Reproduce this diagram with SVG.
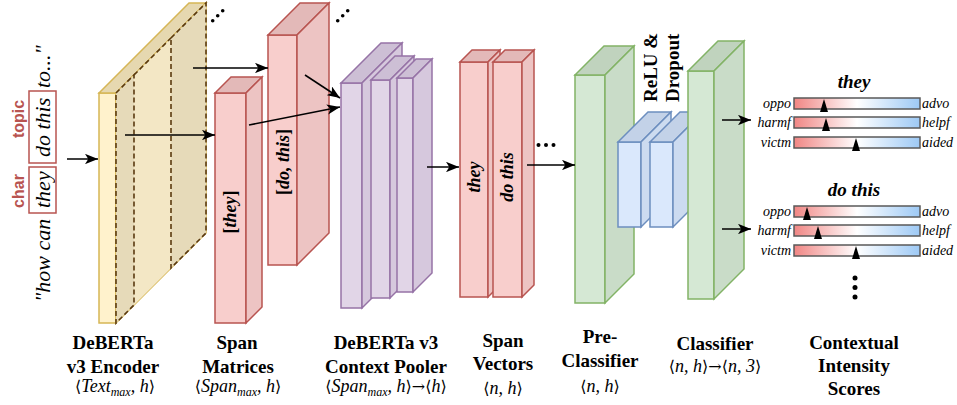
<svg xmlns="http://www.w3.org/2000/svg" width="957" height="405" viewBox="0 0 957 405">
<style>
.y1{fill:#fff2cc;stroke:#d6b656;stroke-width:1.5}
.y2{fill:#e6d8b0;stroke:#d6b656;stroke-width:1.5}
.y3{fill:#e6dab9;stroke:none}
.y4{fill:#f3e7c5;stroke:none}
.dash{fill:none;stroke:#5a3a10;stroke-width:1.6;stroke-dasharray:5 3}
.p1{fill:#f8cecc;stroke:#b85450;stroke-width:1.5}
.p2{fill:#e3b9b8;stroke:#b85450;stroke-width:1.5}
.p3{fill:#edc4c3;stroke:#b85450;stroke-width:1.5}
.u1{fill:#e1d5e7;stroke:#9673a6;stroke-width:1.5}
.u2{fill:#cdbfd5;stroke:#9673a6;stroke-width:1.5}
.u3{fill:#d6c8dd;stroke:#9673a6;stroke-width:1.5}
.g1{fill:#d5e8d4;stroke:#82b366;stroke-width:1.5}
.g2{fill:#c0d3be;stroke:#82b366;stroke-width:1.5}
.g3{fill:#c9dcc8;stroke:#82b366;stroke-width:1.5}
.b1{fill:#dae8fc;stroke:#6c8ebf;stroke-width:1.5}
.b2{fill:#c3d2e8;stroke:#6c8ebf;stroke-width:1.5}
.b3{fill:#ccdbf0;stroke:#6c8ebf;stroke-width:1.5}
.conn{fill:none;stroke:#000;stroke-width:1.5;marker-end:url(#ah)}
.lbl{font-family:"Liberation Serif","Times New Roman",serif;font-weight:bold;font-size:19px;text-anchor:middle;fill:#000}
.sub{font-family:"Liberation Serif","Times New Roman",serif;font-style:italic;font-size:18px;text-anchor:middle;fill:#000}
.ab{font-style:normal;font-family:"DejaVu Serif","Liberation Serif",serif;font-size:16px}
.quote{font-family:"Liberation Serif","Times New Roman",serif;font-style:italic;font-size:22px;fill:#000}
.tag{font-family:"Liberation Sans",Arial,sans-serif;font-weight:bold;font-size:16px;fill:#b85450;text-anchor:middle}
.inl{font-family:"Liberation Serif","Times New Roman",serif;font-weight:bold;font-size:18px;text-anchor:middle;fill:#000}
.bar{stroke:#5a5a5a;stroke-width:1.5;fill:url(#grad)}
.sl{font-family:"Liberation Serif","Times New Roman",serif;font-style:italic;font-size:14px;fill:#000}
.tt{font-family:"Liberation Serif","Times New Roman",serif;font-style:italic;font-weight:bold;font-size:19px;text-anchor:middle;fill:#000}
</style>
<defs>
<marker id="ah" viewBox="0 0 10 8" refX="10" refY="4" markerWidth="13" markerHeight="10.5" markerUnits="userSpaceOnUse" orient="auto">
<path d="M0,0 L10,4 L0,8 L2.5,4 Z" fill="#000"/>
</marker>
<linearGradient id="grad" x1="0" y1="0" x2="1" y2="0">
<stop offset="0" stop-color="#f08684"/>
<stop offset="0.5" stop-color="#ffffff"/>
<stop offset="1" stop-color="#9dc9f5"/>
</linearGradient>
</defs>

<g id="input-text">
<text class="quote" transform="translate(50,302) rotate(-90)">"how can</text>
<text class="quote" transform="translate(50,208) rotate(-90)">they</text>
<text class="quote" transform="translate(50,157) rotate(-90)">do this</text>
<text class="quote" transform="translate(50,88) rotate(-90)">to..."</text>
<rect x="29" y="167" width="27" height="46" fill="none" stroke="#b85450" stroke-width="1.5"/>
<rect x="29" y="91" width="27" height="72" fill="none" stroke="#b85450" stroke-width="1.5"/>
<text class="tag" transform="translate(24,191) rotate(-90)">char</text>
<text class="tag" transform="translate(24,119) rotate(-90)">topic</text>
</g>

<g id="encoder">
<rect class="y1" x="99" y="93" width="17" height="230"/>
<polygon class="y2" points="99,93 189,3 206,3 116,93"/>
<polygon class="y1" points="116,93 206,3 206,233 116,323"/>
<polygon class="y3" points="116,93 134,75 134,305 116,323"/>
<polygon class="y4" points="134,75 171,38 171,268 134,305"/>
<polygon class="y3" points="171,38 206,3 206,233 171,268"/>
<polygon class="dash" points="116,93 134,75 134,305 116,323"/>
<polygon class="dash" points="171,38 206,3 206,233 171,268"/>
<line class="dash" x1="134" y1="75" x2="171" y2="38"/>
<circle cx="212.7" cy="20.7" r="1.8"/><circle cx="217.7" cy="15.7" r="1.8"/><circle cx="222.7" cy="10.7" r="1.8"/>
</g>

<g id="span-matrix-they">
<rect class="p1" x="215" y="93" width="31" height="230"/>
<polygon class="p2" points="215,93 231,77 262,77 246,93"/>
<polygon class="p3" points="246,93 262,77 262,307 246,323"/>
<text class="inl" transform="translate(236,212) rotate(-90)">[<tspan font-style="italic">they</tspan>]</text>
</g>

<g id="span-matrix-dothis">
<rect class="p1" x="268" y="35" width="29" height="230"/>
<polygon class="p2" points="268,35 300,3 329,3 297,35"/>
<polygon class="p3" points="297,35 329,3 329,233 297,265"/>
<text class="inl" transform="translate(289,162) rotate(-90)">[<tspan font-style="italic">do, this</tspan>]</text>
<circle cx="337.7" cy="20.7" r="1.8"/><circle cx="342.7" cy="15.7" r="1.8"/><circle cx="347.7" cy="10.7" r="1.8"/>
</g>

<g id="context-pooler">
<rect class="u1" x="341" y="83" width="21" height="225"/>
<polygon class="u2" points="341,83 381,43 402,43 362,83"/>
<polygon class="u3" points="362,83 402,43 402,268 362,308"/>
<rect class="u1" x="371" y="80" width="19" height="218"/>
<polygon class="u2" points="371,80 395,56 414,56 390,80"/>
<polygon class="u3" points="390,80 414,56 414,274 390,298"/>
<rect class="u1" x="397" y="78" width="16" height="214"/>
<polygon class="u2" points="397,78 416,59 432,59 413,78"/>
<polygon class="u3" points="413,78 432,59 432,273 413,292"/>
</g>

<g id="span-vectors">
<rect class="p1" x="460" y="62" width="28" height="235"/>
<polygon class="p2" points="460,62 472,50 500,50 488,62"/>
<polygon class="p3" points="488,62 500,50 500,285 488,297"/>
<rect class="p1" x="493" y="62" width="29" height="235"/>
<polygon class="p2" points="493,62 505,50 534,50 522,62"/>
<polygon class="p3" points="522,62 534,50 534,285 522,297"/>
<text class="inl" font-style="italic" transform="translate(480,177) rotate(-90)">they</text>
<text class="inl" font-style="italic" transform="translate(513,177) rotate(-90)">do this</text>
<circle cx="538.5" cy="145" r="2"/><circle cx="546" cy="145" r="2"/><circle cx="553.5" cy="145" r="2"/>
</g>

<g id="pre-classifier">
<rect class="g1" x="575" y="75" width="30" height="228"/>
<polygon class="g2" points="575,75 604,46 634,46 605,75"/>
<polygon class="g3" points="605,75 634,46 634,274 605,303"/>
</g>

<g id="relu-dropout">
<rect class="b1" x="618" y="142" width="23" height="85"/>
<polygon class="b2" points="618,142 648,112 671,112 641,142"/>
<polygon class="b3" points="641,142 671,112 671,197 641,227"/>
<rect class="b1" x="650" y="142" width="23" height="85"/>
<polygon class="b2" points="650,142 680,112 703,112 673,142"/>
<polygon class="b3" points="673,142 703,112 703,197 673,227"/>
<text class="inl" transform="translate(657,102) rotate(-90)" style="text-anchor:start;font-size:19px">ReLU &amp;</text>
<text class="inl" transform="translate(679,102) rotate(-90)" style="text-anchor:start;font-size:19px">Dropout</text>
</g>

<g id="classifier">
<rect class="g1" x="688" y="71" width="26" height="228"/>
<polygon class="g2" points="688,71 718,41 744,41 714,71"/>
<polygon class="g3" points="714,71 744,41 744,269 714,299"/>
</g>

<g id="scores-they">
<text class="tt" x="854" y="88">they</text>
<rect class="bar" x="794" y="98" width="126" height="11"/>
<rect class="bar" x="794" y="117" width="126" height="11"/>
<rect class="bar" x="794" y="137" width="126" height="11"/>
<polygon points="824,99 820,112 828,112"/>
<polygon points="826,118 822,131 830,131"/>
<polygon points="856,138 852,151 860,151"/>
<text class="sl" x="791" y="108" text-anchor="end">oppo</text>
<text class="sl" x="791" y="127" text-anchor="end">harmf</text>
<text class="sl" x="791" y="147" text-anchor="end">victm</text>
<text class="sl" x="922" y="108">advo</text>
<text class="sl" x="922" y="127">helpf</text>
<text class="sl" x="922" y="147">aided</text>
</g>

<g id="scores-dothis">
<text class="tt" x="854" y="196">do this</text>
<rect class="bar" x="794" y="206" width="126" height="11"/>
<rect class="bar" x="794" y="225" width="126" height="11"/>
<rect class="bar" x="794" y="245" width="126" height="11"/>
<polygon points="807,207 803,220 811,220"/>
<polygon points="818,226 814,239 822,239"/>
<polygon points="856,246 852,259 860,259"/>
<text class="sl" x="791" y="216" text-anchor="end">oppo</text>
<text class="sl" x="791" y="235" text-anchor="end">harmf</text>
<text class="sl" x="791" y="255" text-anchor="end">victm</text>
<text class="sl" x="922" y="216">advo</text>
<text class="sl" x="922" y="235">helpf</text>
<text class="sl" x="922" y="255">aided</text>
<circle cx="855" cy="278" r="2.5"/><circle cx="855" cy="287.5" r="2.5"/><circle cx="855" cy="297" r="2.5"/>
</g>

<g id="connectors">
<line class="conn" x1="67" y1="159" x2="98" y2="159"/>
<line class="conn" x1="193" y1="68" x2="268" y2="68"/>
<line class="conn" x1="125" y1="135" x2="215" y2="135"/>
<line class="conn" x1="305" y1="75" x2="340" y2="98"/>
<line class="conn" x1="249" y1="125" x2="340" y2="107"/>
<line class="conn" x1="427" y1="167" x2="459" y2="167"/>
<line class="conn" x1="527" y1="165" x2="575" y2="165"/>
<line class="conn" x1="722" y1="120" x2="751" y2="120"/>
<line class="conn" x1="722" y1="229" x2="751" y2="229"/>
</g>

<g id="labels">
<text class="lbl" x="113" y="349">DeBERTa</text>
<text class="lbl" x="113" y="373">v3 Encoder</text>
<text class="sub" x="115" y="392"><tspan class="ab">⟨</tspan>Text<tspan font-size="12" dy="4">max</tspan><tspan dy="-4">, h</tspan><tspan class="ab">⟩</tspan></text>
<text class="lbl" x="237" y="349">Span</text>
<text class="lbl" x="238" y="373">Matrices</text>
<text class="sub" x="238" y="392"><tspan class="ab">⟨</tspan>Span<tspan font-size="12" dy="4">max</tspan><tspan dy="-4">, h</tspan><tspan class="ab">⟩</tspan></text>
<text class="lbl" x="386" y="349">DeBERTa v3</text>
<text class="lbl" x="386" y="373">Context Pooler</text>
<text class="sub" x="386" y="392"><tspan class="ab">⟨</tspan>Span<tspan font-size="12" dy="4">max</tspan><tspan dy="-4">, h</tspan><tspan class="ab">⟩→⟨</tspan>h<tspan class="ab">⟩</tspan></text>
<text class="lbl" x="503" y="347">Span</text>
<text class="lbl" x="503" y="370">Vectors</text>
<text class="sub" x="503" y="394"><tspan class="ab">⟨</tspan>n, h<tspan class="ab">⟩</tspan></text>
<text class="lbl" x="600" y="343">Pre-</text>
<text class="lbl" x="600" y="367">Classifier</text>
<text class="sub" x="600" y="392"><tspan class="ab">⟨</tspan>n, h<tspan class="ab">⟩</tspan></text>
<text class="lbl" x="715" y="350">Classifier</text>
<text class="sub" x="715" y="372"><tspan class="ab">⟨</tspan>n, h<tspan class="ab">⟩→⟨</tspan>n, 3<tspan class="ab">⟩</tspan></text>
<text class="lbl" x="854" y="349">Contextual</text>
<text class="lbl" x="854" y="372">Intensity</text>
<text class="lbl" x="854" y="395">Scores</text>
</g>
</svg>
